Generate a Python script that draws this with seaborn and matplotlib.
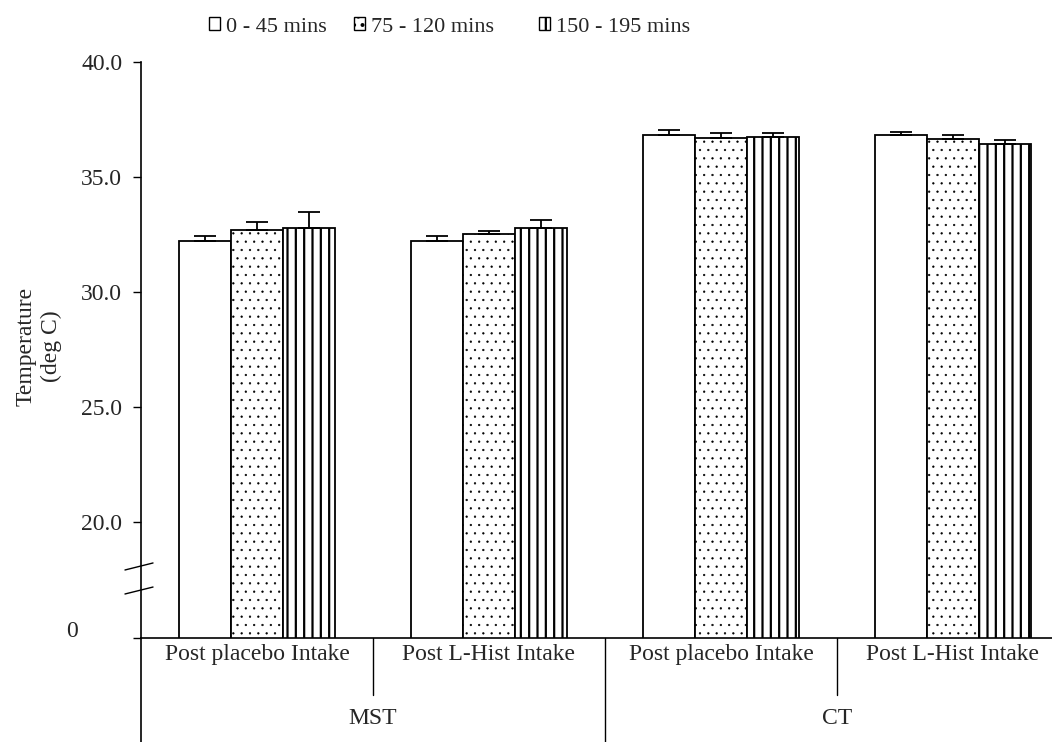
import numpy as np
import pandas as pd
import matplotlib
matplotlib.use("Agg")
import matplotlib.pyplot as plt
from matplotlib.patches import Patch
import matplotlib.transforms as mtransforms
import seaborn as sns

# ---------------- data ----------------
conditions = ["MST", "MST", "CT", "CT"]
intakes = ["Post placebo Intake", "Post L-Hist Intake", "Post placebo Intake", "Post L-Hist Intake"]
periods = ["0 - 45 mins", "75 - 120 mins", "150 - 195 mins"]
temp_0_45 = [32.24, 32.24, 36.84, 36.84]
temp_75_120 = [32.71, 32.52, 36.71, 36.67]
temp_150_195 = [32.78, 32.78, 36.75, 36.45]
err_0_45 = [0.20, 0.20, 0.20, 0.12]
err_75_120 = [0.34, 0.13, 0.20, 0.15]
err_150_195 = [0.70, 0.35, 0.15, 0.15]
ytick_values = [15, 20, 25, 30, 35, 40]
ytick_labels = ["", "20.0", "25.0", "30.0", "35.0", "40.0"]
break_label = "0"
ylabel = "Temperature\n(deg C)"

# ---------------- style ----------------
sns.set_style("white")
plt.rcParams["font.family"] = ["Liberation Serif", "DejaVu Serif"]
plt.rcParams["hatch.linewidth"] = 1.6
FS = 17

cells = [f"{c} | {i}" for c, i in zip(conditions, intakes)]
rows = []
for per, vals in zip(periods, [temp_0_45, temp_75_120, temp_150_195]):
    for cell, v in zip(cells, vals):
        rows.append({"cell": cell, "period": per, "temp": v})
df = pd.DataFrame(rows)
errs = [err_0_45, err_75_120, err_150_195]
hatches = ["", "..", "||"]
hatch_lw = [1.0, 0.4, 1.6]

W, H = 1052, 742
fig = plt.figure(figsize=(W / 100, H / 100), dpi=100)
ax_l, ax_r, ax_t, ax_b = 141, 1052, 62, 637.5
ax = fig.add_axes([ax_l / W, 1 - ax_b / H, (ax_r - ax_l) / W, (ax_b - ax_t) / H])

sns.barplot(data=df, x="cell", y="temp", hue="period", order=cells, hue_order=periods,
            palette=["white"] * 3, edgecolor="black", linewidth=1.3, width=0.672,
            gap=0, errorbar=None, legend=False, ax=ax)

for cont, hat, hlw, err in zip(ax.containers, hatches, hatch_lw, errs):
    xs, ys = [], []
    for p in cont.patches:
        p.set_hatch(hat)
        if hasattr(p, "set_hatch_linewidth"):
            p.set_hatch_linewidth(hlw)
        p.set_edgecolor("black")
        p.set_facecolor("white")
        xs.append(p.get_x() + p.get_width() / 2)
        ys.append(p.get_height())
    ax.errorbar(xs, ys, yerr=[np.zeros(len(err)), err], fmt="none", ecolor="black",
                elinewidth=1.3, capsize=8, capthick=1.3, zorder=5)

ax.set_ylim(15, 40)
ax.set_xlim(-0.5, 3 + (1052 - 953) / 232)
ax.set_yticks(ytick_values)
ax.set_yticklabels(ytick_labels, fontsize=FS)
ax.tick_params(axis="y", which="both", left=True, length=5.5, width=1, color="black", pad=8)
ax.set_xticks(range(len(cells)))
ax.set_xticklabels(intakes, fontsize=FS)
ax.tick_params(axis="x", length=0, pad=5)
ax.set_xlabel("")
ax.set_ylabel(ylabel, fontsize=FS, va="center", linespacing=1.25)
ax.yaxis.set_label_coords(-0.112, 0.5065)

for s in ["top", "right"]:
    ax.spines[s].set_visible(False)
for s in ["left", "bottom"]:
    ax.spines[s].set_color("black")
    ax.spines[s].set_linewidth(1.2)
ax.grid(False)

# "0" label below the axis break
ax.text((72 - ax_l) / (ax_r - ax_l), 15.25, break_label,
        transform=mtransforms.blended_transform_factory(ax.transAxes, ax.transData),
        ha="center", va="center", fontsize=FS)

# axis-break marks
for y0, y1 in [(0.1173, 0.1295), (0.0756, 0.0877)]:
    ax.plot([-0.0176, 0.0132], [y0, y1], transform=ax.transAxes, color="black", lw=1.0, clip_on=False)

# group separators and group labels
trans = mtransforms.blended_transform_factory(ax.transData, ax.transAxes)
ax.plot([-0.5, -0.5], [-0.19, 0], transform=trans, color="black", lw=1.2, clip_on=False)
for xsep, ybot in [(0.5, -0.0999), (1.5, -0.19), (2.5, -0.0999)]:
    ax.plot([xsep, xsep], [ybot, 0], transform=trans, color="black", lw=1.0, clip_on=False)
group_names = ["MST", "CT"]
for gx, gname in zip([0.5, 2.5], group_names):
    ax.text(gx, (637.5 - 718) / 575.5, gname, transform=trans, ha="center", va="center", fontsize=FS)

# legend (three entries along the top)
leg_x = [209, 354, 539]
leg_hatch = ["", "..", "||"]
for per, hat, hlw, lx in zip(periods, leg_hatch, [1.0, 0.6, 1.0], leg_x):
    h = Patch(facecolor="white", edgecolor="black", hatch=hat, linewidth=1.0)
    if hasattr(h, "set_hatch_linewidth"):
        h.set_hatch_linewidth(hlw)
    fig.legend([h], [per], loc="center left", bbox_to_anchor=(lx / W, 1 - 27 / H),
               frameon=False, fontsize=16, handlelength=0.5, handleheight=0.5,
               handletextpad=0.25, borderpad=0, borderaxespad=0)

fig.savefig("out.png", dpi=100)
